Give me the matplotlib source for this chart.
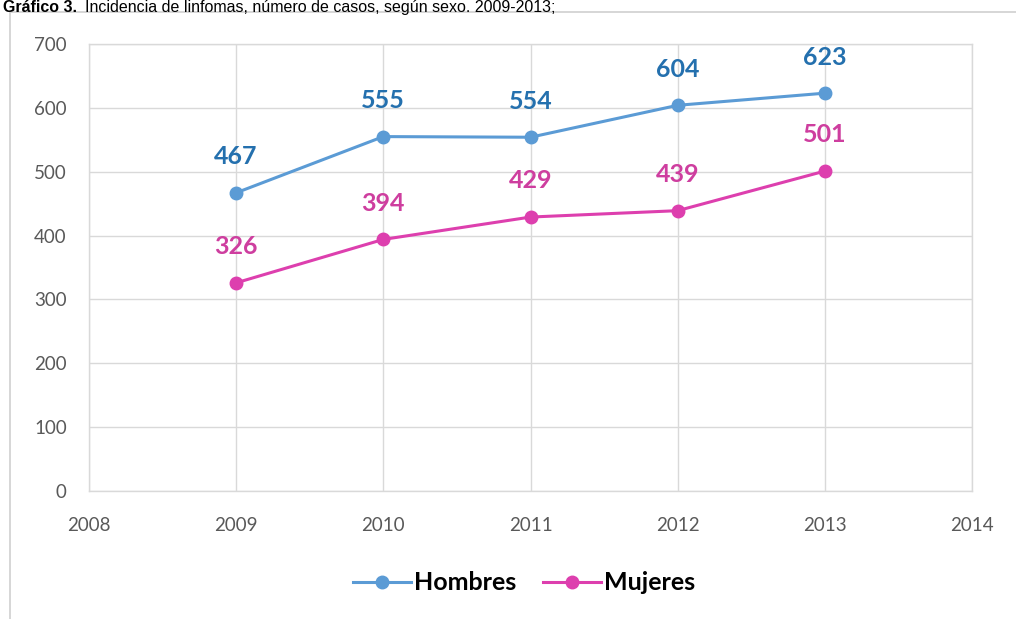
import matplotlib
matplotlib.use("Agg")
import matplotlib.pyplot as plt
from matplotlib.patches import Rectangle

years = [2009, 2010, 2011, 2012, 2013]
hombres = [467, 555, 554, 604, 623]
mujeres = [326, 394, 429, 439, 501]
x_ticks = [2008, 2009, 2010, 2011, 2012, 2013, 2014]
y_ticks = [0, 100, 200, 300, 400, 500, 600, 700]
series_names = ["Hombres", "Mujeres"]
title_bold = "Gráfico 3."
title_rest = "Incidencia de linfomas, número de casos, según sexo. 2009-2013;"

W, H = 1016, 619
fig = plt.figure(figsize=(W / 100, H / 100), dpi=100)
fig.patch.set_facecolor("white")

# outer chart frame
fig.add_artist(Rectangle((10 / W, 0 - 0.01), (W + 20) / W, (H - 12) / H + 0.01,
                         transform=fig.transFigure, fill=False,
                         edgecolor="#D0D0D0", linewidth=1.2))

# title at top
t1 = fig.text(3 / W, 1 - 12 / H, title_bold, ha="left", va="baseline",
              fontsize=11.5, fontweight="bold", family="Liberation Sans", color="black")
fig.canvas.draw()
bb = t1.get_window_extent()
fig.text((bb.x1 + 8) / W, 1 - 12 / H, title_rest, ha="left", va="baseline",
         fontsize=11.5, family="Liberation Sans", color="black")

ax = fig.add_axes([89 / W, 1 - 491 / H, (972 - 89) / W, (491 - 44) / H])
ax.set_xlim(2008, 2014)
ax.set_ylim(0, 700)
ax.set_xticks(x_ticks)
ax.set_yticks(y_ticks)
ax.grid(True, color="#D9D9D9", linewidth=1.0)
ax.set_axisbelow(True)
for s in ax.spines.values():
    s.set_color("#D9D9D9")
    s.set_linewidth(1.0)
ax.tick_params(length=0, labelsize=13.5, labelcolor="#595959")
for lbl in ax.get_xticklabels() + ax.get_yticklabels():
    lbl.set_family("Lato")
ax.tick_params(axis="x", pad=19)
ax.tick_params(axis="y", pad=16)

c_h_line, c_h_lab = "#5B9BD5", "#2470AE"
c_m_line, c_m_lab = "#DD3FAE", "#CE3E9F"

ax.plot(years, hombres, color=c_h_line, lw=2.2, marker="o", ms=9,
        label=series_names[0], zorder=3)
ax.plot(years, mujeres, color=c_m_line, lw=2.2, marker="o", ms=9,
        label=series_names[1], zorder=3)

for xv, yv in zip(years, hombres):
    ax.annotate(str(yv), (xv, yv), xytext=(0, 26), textcoords="offset points",
                ha="center", va="center", fontsize=18, fontweight="bold",
                family="Lato", color=c_h_lab)
for xv, yv in zip(years, mujeres):
    ax.annotate(str(yv), (xv, yv), xytext=(0, 26), textcoords="offset points",
                ha="center", va="center", fontsize=18, fontweight="bold",
                family="Lato", color=c_m_lab)

leg = fig.legend(loc="center", bbox_to_anchor=(524 / W, 1 - 583 / H), ncol=2,
                 frameon=False, prop={"family": "Lato", "weight": "bold", "size": 18},
                 handlelength=2.3, handletextpad=0.12, columnspacing=1.1)

fig.savefig("out.png", dpi=100, facecolor="white")
